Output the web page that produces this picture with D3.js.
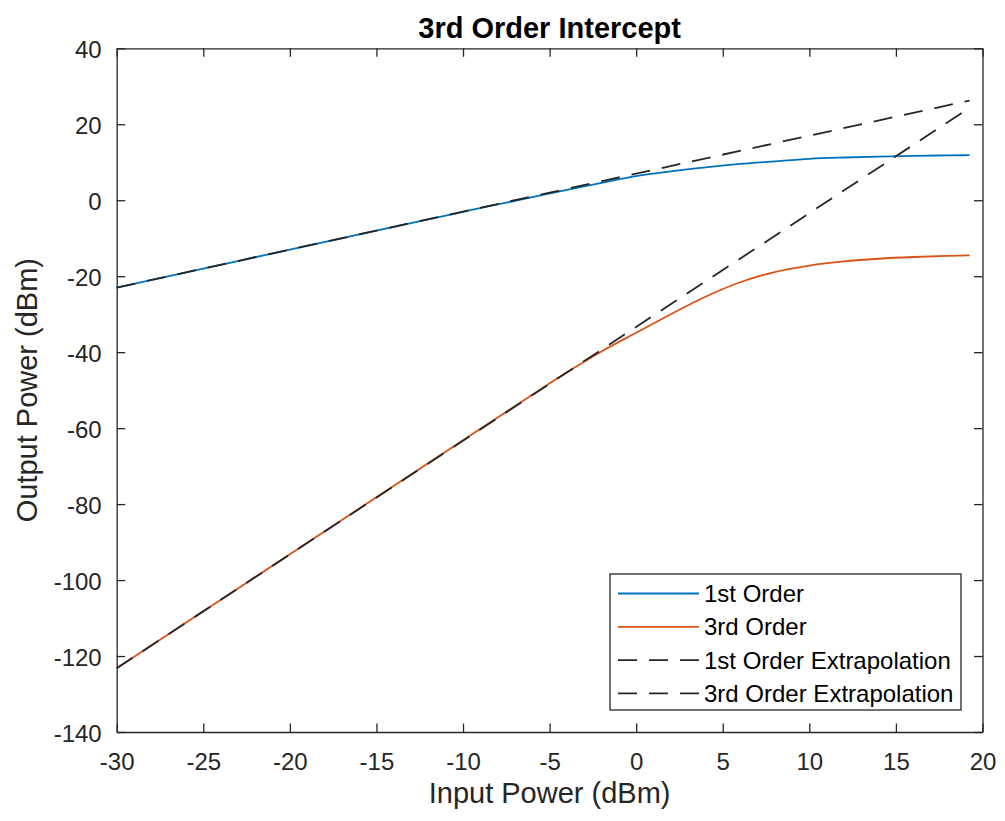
<!DOCTYPE html>
<html>
<head>
<meta charset="utf-8">
<script src="https://cdn.jsdelivr.net/npm/d3@7/dist/d3.min.js"></script>
<style>
  html, body { margin: 0; padding: 0; background: #fff; }
  svg { display: block; font-family: "Liberation Sans", Arial, Helvetica, sans-serif; }
</style>
</head>
<body>
<svg id="chart" width="1005" height="821"></svg>
<script>
// Input power sweep (dBm)
const inputPower = [-30, -25, -20, -15, -10, -8, -6, -4, -2, 0, 2, 4, 6, 8, 10, 12, 14, 16, 18, 19.25];
// Fundamental output (dBm)
const firstOrder = [-23.0, -18.0, -13.0, -8.0, -3.05, -1.1, 0.8, 2.75, 4.6, 6.35, 7.6, 8.65, 9.55, 10.25, 10.9, 11.25, 11.5, 11.7, 11.8, 11.85];
// Third-order intermod output (dBm)
const thirdOrder = [-123.2, -108.2, -93.2, -78.2, -63.2, -57.2, -51.2, -45.3, -39.8, -34.9, -30.0, -25.4, -21.6, -18.9, -17.2, -16.1, -15.4, -14.95, -14.65, -14.5];
// Linear extrapolations (end points)
const extrapInput = [-30, 19.25];
const firstExtrap = [-23.0, 26.25];
const thirdExtrap = [-123.2, 24.3];

const xTicks = [-30, -25, -20, -15, -10, -5, 0, 5, 10, 15, 20];
const yTicks = [-140, -120, -100, -80, -60, -40, -20, 0, 20, 40];

const seriesNames = ["1st Order", "3rd Order", "1st Order Extrapolation", "3rd Order Extrapolation"];
const seriesColors = ["#0072BD", "#D95319", "#262626", "#262626"];
const seriesDash = [null, null, "19,12", "19,12"];

const axisColor = "#262626";
const plotLeft = 116.7, plotRight = 982.5, plotTop = 48.3, plotBottom = 732;

const svg = d3.select("#chart");
const x = d3.scaleLinear().domain([-30, 20]).range([plotLeft, plotRight]);
const y = d3.scaleLinear().domain([-140, 40]).range([plotBottom, plotTop]);

// Data lines
const plot = svg.append("g");
const line = d3.line().x(d => x(d[0])).y(d => y(d[1])).curve(d3.curveMonotoneX);
const straight = d3.line().x(d => x(d[0])).y(d => y(d[1]));

const curves = [
  { pts: d3.zip(inputPower, firstOrder), gen: line },
  { pts: d3.zip(inputPower, thirdOrder), gen: line },
  { pts: d3.zip(extrapInput, firstExtrap), gen: straight },
  { pts: d3.zip(extrapInput, thirdExtrap), gen: straight }
];
curves.forEach((c, i) => {
  plot.append("path")
    .attr("d", c.gen(c.pts))
    .attr("fill", "none")
    .attr("stroke", seriesColors[i])
    .attr("stroke-width", 1.8)
    .attr("stroke-dasharray", seriesDash[i]);
});

// Axes (box with inward ticks on all four sides)
const tickLen = 8.5;
const fontTick = 24;
const fmt = d => String(d);
const ax = svg.append("g");

const xBottom = ax.append("g").attr("transform", `translate(0,${plotBottom})`)
  .call(d3.axisBottom(x).tickValues(xTicks).tickFormat(fmt).tickSizeInner(-tickLen).tickSizeOuter(0).tickPadding(21));
const xTop = ax.append("g").attr("transform", `translate(0,${plotTop})`)
  .call(d3.axisTop(x).tickValues(xTicks).tickSizeInner(-tickLen).tickSizeOuter(0).tickFormat(""));
const yLeft = ax.append("g").attr("transform", `translate(${plotLeft},0)`)
  .call(d3.axisLeft(y).tickValues(yTicks).tickFormat(fmt).tickSizeInner(-tickLen).tickSizeOuter(0).tickPadding(15));
const yRight = ax.append("g").attr("transform", `translate(${plotRight},0)`)
  .call(d3.axisRight(y).tickValues(yTicks).tickSizeInner(-tickLen).tickSizeOuter(0).tickFormat(""));

[xBottom, xTop, yLeft, yRight].forEach(g => {
  g.select(".domain").attr("stroke", axisColor).attr("stroke-width", 1.3);
  g.selectAll(".tick line").attr("stroke", axisColor).attr("stroke-width", 1.3);
  g.selectAll(".tick text")
    .attr("fill", axisColor)
    .style("font-size", fontTick + "px")
    .style("font-family", "'Liberation Sans', Arial, sans-serif");
});
xBottom.selectAll(".tick text").attr("dy", "0.71em");
yLeft.selectAll(".tick text").attr("dy", "0.38em");

// Title and axis labels
svg.append("text")
  .attr("x", (plotLeft + plotRight) / 2).attr("y", 38)
  .attr("text-anchor", "middle")
  .attr("fill", "#000")
  .style("font-size", "29px").style("font-weight", "bold")
  .text("3rd Order Intercept");

svg.append("text")
  .attr("x", (plotLeft + plotRight) / 2).attr("y", 803)
  .attr("text-anchor", "middle")
  .attr("fill", axisColor)
  .style("font-size", "29px")
  .text("Input Power (dBm)");

svg.append("text")
  .attr("transform", `translate(37,${(plotTop + plotBottom) / 2}) rotate(-90)`)
  .attr("text-anchor", "middle")
  .attr("fill", axisColor)
  .style("font-size", "29px")
  .text("Output Power (dBm)");

// Legend
const lg = svg.append("g");
lg.append("rect")
  .attr("x", 610).attr("y", 574).attr("width", 351).attr("height", 136)
  .attr("fill", "#fff").attr("stroke", axisColor).attr("stroke-width", 1.3);
seriesNames.forEach((name, i) => {
  const cy = 593.5 + i * 33.3;
  lg.append("line")
    .attr("x1", 618).attr("x2", 699).attr("y1", cy).attr("y2", cy)
    .attr("stroke", seriesColors[i]).attr("stroke-width", 1.8)
    .attr("stroke-dasharray", seriesDash[i]);
  lg.append("text")
    .attr("x", 704).attr("y", cy).attr("dy", "0.36em")
    .attr("fill", "#000")
    .style("font-size", fontTick + "px")
    .text(name);
});
</script>
</body>
</html>
